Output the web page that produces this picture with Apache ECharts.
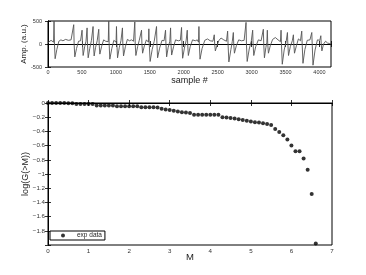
<!DOCTYPE html>
<html><head><meta charset="utf-8">
<script src="https://cdn.jsdelivr.net/npm/echarts@6/dist/echarts.min.js"></script>
<style>html,body{margin:0;padding:0;background:#fff}#c{width:366px;height:275px}</style>
</head><body><div id="c"></div>
<script>
// ECG trace vertices: [sample #, amplitude (a.u.)]
const ecgTrace = [
[0,30],[20,60],[45,80],[70,50],[82,40],[89,500],[95,0],[105,-320],[130,-120],[160,60],[190,90],[220,70],[260,100],[300,80],[340,90],[365,60],
[379,420],[385,0],[395,-280],[420,-100],[450,60],[480,70],[495,40],
[502,300],[508,0],[518,-250],[540,-60],[560,60],[570,30],
[576,350],[582,0],[592,-300],[615,-100],[640,80],[655,40],
[664,380],[670,0],[680,-260],[700,-80],[725,70],[740,40],
[748,320],[754,0],[764,-220],[790,-50],[820,90],[850,60],[875,80],[888,50],
[895,500],[901,0],[911,-330],[940,-100],[970,80],[995,60],[1003,40],
[1009,380],[1015,0],[1025,-300],[1050,-80],[1075,70],[1090,40],
[1097,350],[1103,0],[1113,-260],[1140,-60],[1170,100],[1200,70],[1230,90],[1260,60],[1272,40],
[1279,480],[1285,0],[1295,-250],[1320,-60],[1345,80],[1370,40],
[1378,300],[1384,0],[1394,-200],[1420,-40],[1450,90],[1475,60],[1480,40],
[1486,330],[1492,0],[1505,-380],[1535,-120],[1565,60],[1590,40],
[1599,380],[1605,0],[1615,-300],[1645,-90],[1680,80],[1710,70],[1725,40],
[1732,300],[1738,0],[1748,-280],[1770,-80],[1795,60],[1800,40],
[1806,350],[1812,0],[1822,-240],[1850,-60],[1880,90],[1920,70],[1950,80],[1962,40],
[1968,360],[1974,0],[1984,-310],[2010,-90],[2035,70],[2045,40],
[2052,300],[2058,0],[2068,-250],[2095,-60],[2130,90],[2170,70],[2200,90],[2218,40],
[2224,380],[2230,0],[2240,-330],[2270,-100],[2310,80],[2350,110],[2390,70],[2430,60],[2444,40],
[2450,200],[2456,0],[2466,-150],[2490,-30],[2520,80],[2550,130],[2590,90],[2630,60],[2641,40],
[2647,280],[2653,0],[2665,-390],[2695,-120],[2715,50],[2725,40],
[2731,250],[2737,0],[2747,-200],[2775,-40],[2810,90],[2850,70],[2890,80],[2912,40],
[2918,470],[2924,0],[2935,-380],[2965,-110],[2995,60],[3010,40],
[3016,300],[3022,0],[3032,-250],[3060,-60],[3100,90],[3140,70],[3165,40],
[3173,320],[3179,0],[3189,-300],[3210,-80],[3225,40],
[3232,300],[3238,0],[3248,-200],[3275,-40],[3310,100],[3350,140],[3390,90],[3425,50],
[3434,300],[3440,0],[3452,-440],[3480,-130],[3510,60],[3522,40],
[3528,250],[3534,0],[3544,-250],[3570,-60],[3600,70],[3610,40],
[3616,200],[3622,0],[3632,-200],[3660,-40],[3690,110],[3720,70],[3733,40],
[3739,280],[3745,0],[3757,-420],[3785,-120],[3820,80],[3860,90],[3880,50],
[3887,250],[3893,0],[3905,-460],[3935,-130],[3970,90],[4005,80],[4015,50],
[4020,180],[4026,0],[4036,-150],[4060,0],[4090,60],[4120,20],[4150,10],[4170,0]
];

// log(G(>M)) vs M
const mValues = [0,0.1,0.2,0.3,0.4,0.5,0.6,0.7,0.8,0.9,1.0,1.1,1.2,1.3,1.4,1.5,1.6,1.7,1.8,1.9,2.0,2.1,2.2,2.3,2.4,2.5,2.6,2.7,2.8,2.9,3.0,3.1,3.2,3.3,3.4,3.5,3.6,3.7,3.8,3.9,4.0,4.1,4.2,4.3,4.4,4.5,4.6,4.7,4.8,4.9,5.0,5.1,5.2,5.3,5.4,5.5,5.6,5.7,5.8,5.9,6.0,6.1,6.2,6.3,6.4,6.5,6.6];
const logG = [0,0,0,0,0,-0.003,-0.005,-0.015,-0.015,-0.015,-0.015,-0.015,-0.035,-0.035,-0.035,-0.035,-0.035,-0.045,-0.045,-0.045,-0.045,-0.045,-0.045,-0.06,-0.06,-0.06,-0.06,-0.065,-0.08,-0.09,-0.1,-0.11,-0.12,-0.13,-0.135,-0.14,-0.165,-0.165,-0.165,-0.165,-0.165,-0.165,-0.165,-0.2,-0.205,-0.21,-0.22,-0.23,-0.24,-0.25,-0.26,-0.27,-0.275,-0.285,-0.295,-0.31,-0.365,-0.41,-0.455,-0.515,-0.6,-0.68,-0.68,-0.78,-0.94,-1.28,-1.98];

const topXTicks = [0,500,1000,1500,2000,2500,3000,3500,4000];
const topYTicks = [-500,0,500];
const botXTicks = [0,1,2,3,4,5,6,7];
const botYTicks = [0,-0.2,-0.4,-0.6,-0.8,-1,-1.2,-1.4,-1.6,-1.8];

const FONT = 'Liberation Sans';
const topLbl = {fontSize: 5.5, color: '#333', fontFamily: FONT};
const botLbl = {fontSize: 6.2, color: '#333', fontFamily: FONT};
const line = {show: true, lineStyle: {color: '#000', width: 1}};
const tickIn = {show: true, inside: true, length: 3, lineStyle: {color: '#000', width: 0.8}};
const nameStyle = (s) => ({fontSize: s, fontFamily: FONT, color: '#222'});

const chart = echarts.init(document.getElementById('c'), null, {renderer: 'canvas'});
const pairs = mValues.map((m, i) => [m, logG[i]]);
chart.setOption({
  animation: false,
  backgroundColor: '#fff',
  grid: [
    {left: 48, width: 283, top: 21, height: 46, show: true, borderColor: '#000', borderWidth: 1},
    {left: 48, width: 284, top: 103, height: 142, show: true, borderColor: '#000', borderWidth: 1}
  ],
  xAxis: [
    {type: 'value', gridIndex: 0, min: 0, max: 4170, interval: 500, axisLine: line, axisTick: tickIn, splitLine: {show: false},
     axisLabel: Object.assign({}, topLbl, {margin: 2, formatter: v => topXTicks.includes(v) ? String(v) : ''}),
     name: 'sample #', nameLocation: 'middle', nameGap: 9, nameMoveOverlap: false, nameTextStyle: nameStyle(9)},
    {type: 'value', gridIndex: 0, position: 'top', min: 0, max: 4170, interval: 500, axisLine: line, axisTick: tickIn, axisLabel: {show: false}, splitLine: {show: false}},
    {type: 'value', gridIndex: 1, min: 0, max: 7, interval: 1, axisLine: line, axisTick: tickIn, splitLine: {show: false},
     axisLabel: Object.assign({}, botLbl, {margin: 3, formatter: v => botXTicks.includes(v) ? String(v) : ''}),
     name: 'M', nameLocation: 'middle', nameGap: 7, nameMoveOverlap: false, nameTextStyle: nameStyle(9.5)},
    {type: 'value', gridIndex: 1, position: 'top', min: 0, max: 7, interval: 1, axisLine: line, axisTick: tickIn, axisLabel: {show: false}, splitLine: {show: false}}
  ],
  yAxis: [
    {type: 'value', gridIndex: 0, min: -500, max: 500, interval: 500, axisLine: line, axisTick: tickIn, splitLine: {show: false},
     axisLabel: Object.assign({}, topLbl, {margin: 6, formatter: v => topYTicks.includes(v) ? String(v) : ''}),
     name: 'Amp. (a.u.)', nameLocation: 'middle', nameGap: 20, nameRotate: 90, nameMoveOverlap: false, nameTextStyle: nameStyle(8)},
    {type: 'value', gridIndex: 0, position: 'right', min: -500, max: 500, interval: 500, axisLine: line, axisTick: tickIn, axisLabel: {show: false}, splitLine: {show: false}},
    {type: 'value', gridIndex: 1, min: -2, max: 0, interval: 0.2, axisLine: line, axisTick: tickIn, splitLine: {show: false},
     axisLabel: Object.assign({}, botLbl, {margin: 3, formatter: v => {
        const r = Math.round(v * 10) / 10;
        if (!botYTicks.includes(r)) return '';
        return r === 0 ? '0' : '\u2212' + String(Math.abs(r));
     }}),
     name: 'log(G(>M))', nameLocation: 'middle', nameGap: 18, nameRotate: 90, nameMoveOverlap: false, nameTextStyle: nameStyle(9)},
    {type: 'value', gridIndex: 1, position: 'right', min: -2, max: 0, interval: 0.2, axisLine: line, axisTick: tickIn, axisLabel: {show: false}, splitLine: {show: false}}
  ],
  legend: {
    data: [{name: 'exp data', icon: 'circle'}],
    left: 50, top: 231, orient: 'horizontal',
    backgroundColor: '#fff', borderColor: '#000', borderWidth: 1, borderRadius: 0,
    padding: [1, 3, 1, 11], itemWidth: 4, itemHeight: 4, itemGap: 2,
    textStyle: {fontSize: 6.5, fontFamily: FONT, color: '#222', padding: [0, 0, 0, 7]}
  },
  series: [
    {type: 'line', xAxisIndex: 0, yAxisIndex: 0, data: ecgTrace, showSymbol: false, symbol: 'none',
     lineStyle: {color: '#555', width: 0.9}, silent: true},
    {name: 'exp data', type: 'scatter', xAxisIndex: 2, yAxisIndex: 2, data: pairs, symbol: 'circle', symbolSize: 4,
     itemStyle: {color: '#000'}, clip: false}
  ]
});
</script></body></html>
